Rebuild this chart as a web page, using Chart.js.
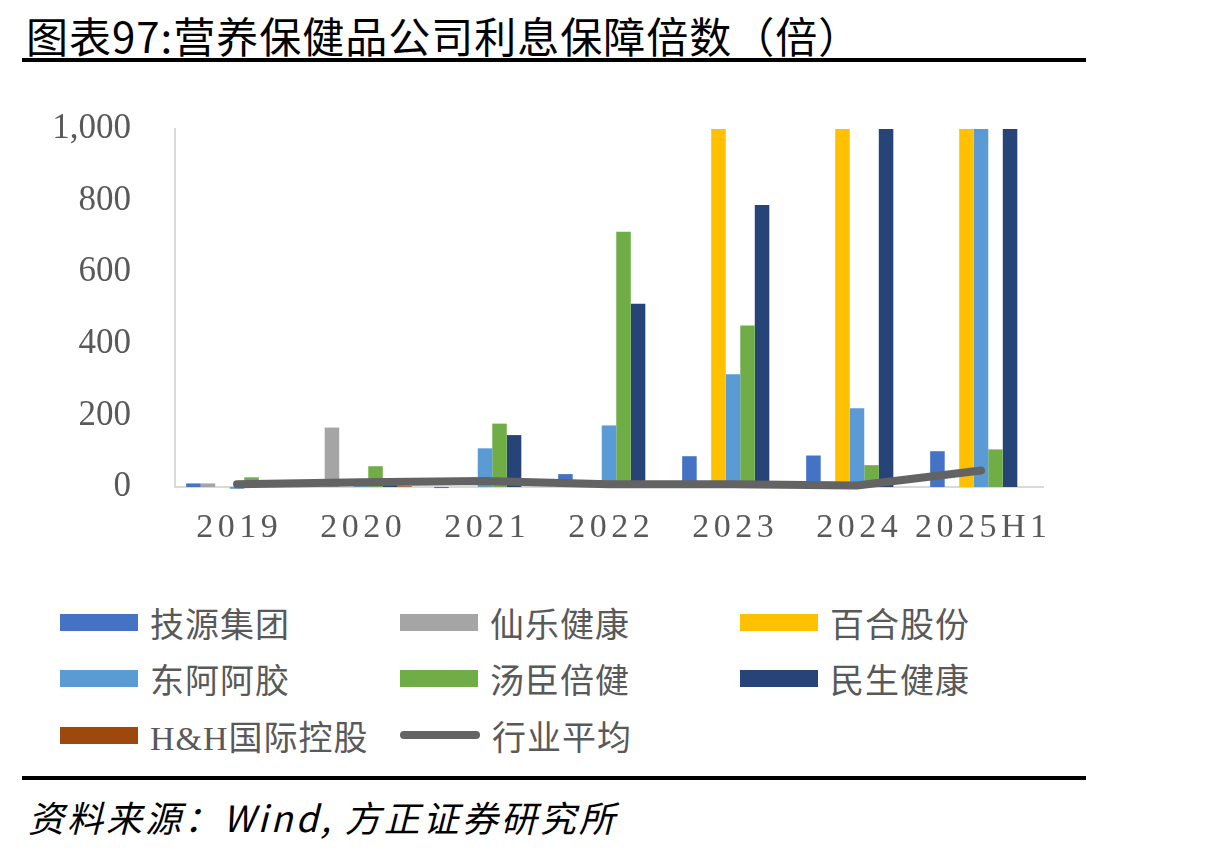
<!DOCTYPE html>
<html>
<head>
<meta charset="utf-8">
<script src="https://cdn.jsdelivr.net/npm/chart.js@4/dist/chart.umd.min.js"></script>
<style>
  html, body { margin: 0; padding: 0; background: #fff; }
  body { width: 1218px; height: 850px; position: relative; overflow: hidden; }
  #title { position: absolute; left: 26px; top: 4px; font: 42px "Noto Sans CJK SC", sans-serif; letter-spacing: 1px; color: #000; white-space: nowrap; }
  .rule { position: absolute; left: 22px; width: 1064px; height: 4px; background: #000; }
  #wrap { position: absolute; left: 0; top: 72px; width: 1218px; height: 488px; }
  #legend { position: absolute; left: 0; top: 0; width: 1218px; height: 0; }
  .li { position: absolute; display: flex; align-items: center; height: 40px; font: 34px "Liberation Serif", "Noto Sans CJK SC", serif; color: #595959; white-space: nowrap; letter-spacing: 1px; }
  .sw { width: 78px; height: 17px; margin-right: 12px; }
  .ln { width: 80px; height: 8px; border-radius: 4px; margin-right: 12px; }
  #source { position: absolute; left: 28px; top: 790px; font: italic 36px "Noto Sans CJK SC", sans-serif; letter-spacing: 3px; color: #000; white-space: nowrap; }
</style>
</head>
<body>
<div id="title">图表97:营养保健品公司利息保障倍数（倍）</div>
<div class="rule" style="top:58px"></div>
<div id="wrap"><canvas id="c" width="1218" height="488"></canvas></div>
<div id="legend"></div>
<div class="rule" style="top:776px"></div>
<div id="source">资料来源：Wind, 方正证券研究所</div>
<script>
const categories = ['2019', '2020', '2021', '2022', '2023', '2024', '2025H1'];
const jiyuan   = [10, null, -3, 36, 86, 88, 100];
const xianle   = [10, 166, null, null, null, null, null];
const baihe    = [null, null, null, null, 1500, 1500, 1500];
const dongeejiao = [-5, 3, 108, 172, 315, 220, 1200];
const tangchen = [27, 58, 177, 713, 451, 61, 105];
const minsheng = [null, 12, 145, 512, 788, 1300, 1400];
const hh       = [null, 2, null, null, null, null, null];
const industryAvg = [8, 13, 17, 8, 8, 4, 46];
const yTicks = [0, 200, 400, 600, 800, 1000];

const seriesNames = ['技源集团', '仙乐健康', '百合股份', '东阿阿胶', '汤臣倍健', '民生健康', 'H&H国际控股', '行业平均'];
const colors = ['#4472C4', '#A5A5A5', '#FFC000', '#5B9BD5', '#70AD47', '#264478', '#9E480E', '#636363'];
const barData = [jiyuan, xianle, baihe, dongeejiao, tangchen, minsheng, hh];

const datasets = barData.map((d, i) => ({
  type: 'bar',
  label: seriesNames[i],
  data: d,
  backgroundColor: colors[i],
  borderWidth: 0,
  categoryPercentage: 0.82,
  barPercentage: 1.0,
  order: 1,
  clip: { left: 0, top: 0, right: 0, bottom: false }
}));
datasets.push({
  type: 'line',
  label: seriesNames[7],
  data: industryAvg,
  borderColor: colors[7],
  backgroundColor: colors[7],
  borderWidth: 8,
  borderCapStyle: 'round',
  borderJoinStyle: 'round',
  pointRadius: 0,
  tension: 0,
  order: 0,
  clip: false
});

const xLabelPlugin = {
  id: 'xLabels',
  afterDraw(chart) {
    const ctx = chart.ctx;
    const xs = chart.scales.x;
    const area = chart.chartArea;
    ctx.save();
    ctx.font = '34px "Liberation Serif", serif';
    ctx.fillStyle = '#595959';
    ctx.textBaseline = 'middle';
    ctx.textAlign = 'center';
    const sp = 4.5;
    ctx.letterSpacing = sp + 'px';
    categories.forEach((lab, i) => {
      const x = xs.getPixelForValue(i);
      ctx.fillText(lab, x + sp / 2, area.bottom + 41);
    });
    ctx.restore();
  }
};

const chart = new Chart(document.getElementById('c'), {
  data: { labels: categories, datasets },
  options: {
    responsive: false,
    animation: false,
    layout: { padding: { left: 0, top: 28, right: 175, bottom: 0 } },
    plugins: { legend: { display: false }, tooltip: { enabled: false } },
    scales: {
      x: {
        grid: { display: false },
        border: { display: true, color: '#D9D9D9', width: 2 },
        ticks: { display: false },
        afterFit(s) { s.height = 73; }
      },
      y: {
        min: 0,
        max: 1000,
        afterBuildTicks(s) { s.ticks = yTicks.map(v => ({ value: v })); },
        grid: { display: false },
        border: { display: true, color: '#D9D9D9', width: 2 },
        ticks: {
          font: { family: '"Liberation Serif", serif', size: 35 },
          color: '#595959',
          padding: 36,
          callback: v => v.toLocaleString('en-US')
        },
        afterFit(s) { s.width = 175; }
      }
    }
  },
  plugins: [xLabelPlugin]
});

// HTML legend built from the chart's datasets, in a 3-column grid
const legend = document.getElementById('legend');
const colX = [60, 400, 740];
const rowY = [602, 658, 715];
chart.data.datasets.forEach((ds, i) => {
  const item = document.createElement('div');
  item.className = 'li';
  item.style.left = colX[i % 3] + 'px';
  item.style.top = rowY[Math.floor(i / 3)] + 'px';
  const sw = document.createElement('span');
  if (ds.type === 'line') {
    sw.className = 'ln';
    sw.style.background = ds.borderColor;
  } else {
    sw.className = 'sw';
    sw.style.background = ds.backgroundColor;
  }
  const t = document.createElement('span');
  t.textContent = ds.label;
  item.appendChild(sw);
  item.appendChild(t);
  legend.appendChild(item);
});
</script>
</body>
</html>
